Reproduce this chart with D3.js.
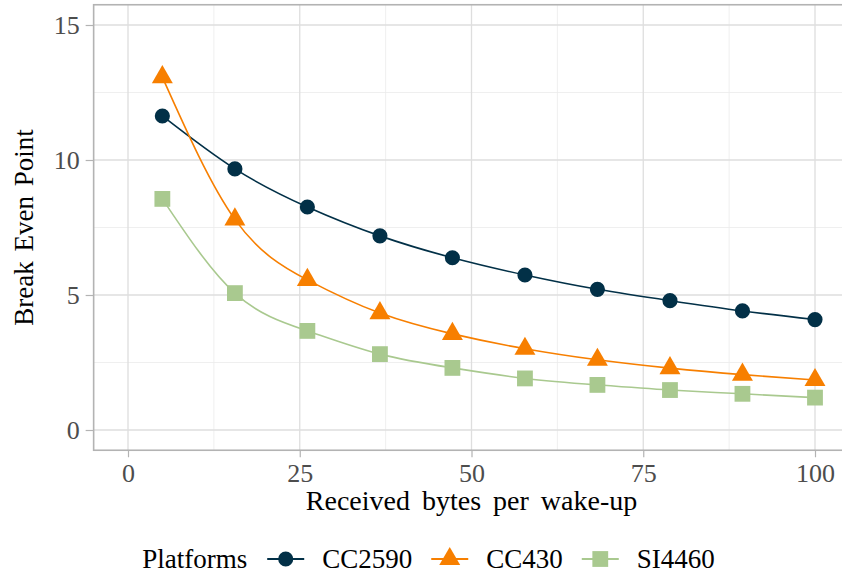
<!DOCTYPE html>
<html>
<head>
<meta charset="utf-8">
<script src="https://cdn.jsdelivr.net/npm/d3@7"></script>
<style>
  html, body { margin: 0; padding: 0; background: #fff; }
  svg { display: block; }
  text { font-family: "Liberation Serif", "Times New Roman", serif; }
</style>
</head>
<body>
<svg id="chart" width="842" height="579"></svg>
<script>
// ---- data ----
const bytesPerWakeup = [5, 15.56, 26.11, 36.67, 47.22, 57.78, 68.33, 78.89, 89.44, 100];
const cc2590 = [11.63, 9.67, 8.26, 7.19, 6.38, 5.74, 5.21, 4.79, 4.41, 4.09];
const cc430  = [13.07, 7.80, 5.56, 4.33, 3.56, 3.01, 2.60, 2.29, 2.05, 1.85];
const si4460 = [8.56, 5.07, 3.67, 2.81, 2.30, 1.91, 1.67, 1.48, 1.34, 1.20];
const platforms = ["CC2590", "CC430", "SI4460"];
const xTicks = [0, 25, 50, 75, 100];
const yTicks = [0, 5, 10, 15];
const xMinor = [12.5, 37.5, 62.5, 87.5];
const yMinor = [2.5, 7.5, 12.5];

const seriesValues = { CC2590: cc2590, CC430: cc430, SI4460: si4460 };
const colors = { CC2590: "#023047", CC430: "#f77f00", SI4460: "#a9c98f" };
const shapes = { CC2590: d3.symbolCircle, CC430: d3.symbolTriangle, SI4460: d3.symbolSquare };
const shapeSize = { CC2590: 180, CC430: 190, SI4460: 250 };

const svg = d3.select("#chart");

const x = d3.scaleLinear().domain([-5, 105]).range([93.65, 849.35]);
const y = d3.scaleLinear().domain([-0.75, 15.75]).range([450.25, 4.75]);

const panel = svg.append("g");
const [x0, x1] = x.range();
const [yb, yt] = y.range();

// minor grid
panel.selectAll("line.xminor").data(xMinor).join("line")
  .attr("x1", d => x(d)).attr("x2", d => x(d)).attr("y1", yt).attr("y2", yb)
  .attr("stroke", "#ebebeb").attr("stroke-width", 0.8);
panel.selectAll("line.yminor").data(yMinor).join("line")
  .attr("y1", d => y(d)).attr("y2", d => y(d)).attr("x1", x0).attr("x2", x1)
  .attr("stroke", "#ebebeb").attr("stroke-width", 0.8);
// major grid
panel.selectAll("line.xmajor").data(xTicks).join("line")
  .attr("x1", d => x(d)).attr("x2", d => x(d)).attr("y1", yt).attr("y2", yb)
  .attr("stroke", "#dedede").attr("stroke-width", 1.3);
panel.selectAll("line.ymajor").data(yTicks).join("line")
  .attr("y1", d => y(d)).attr("y2", d => y(d)).attr("x1", x0).attr("x2", x1)
  .attr("stroke", "#dedede").attr("stroke-width", 1.3);

// series
const line = d3.line().x(d => x(d[0])).y(d => y(d[1])).curve(d3.curveNatural);
platforms.forEach(p => {
  const pts = bytesPerWakeup.map((b, i) => [b, seriesValues[p][i]]);
  svg.append("path").datum(pts).attr("d", line)
    .attr("fill", "none").attr("stroke", colors[p]).attr("stroke-width", 1.6);
  svg.append("g").selectAll("path").data(pts).join("path")
    .attr("transform", d => `translate(${x(d[0])},${y(d[1])})`)
    .attr("d", d3.symbol().type(shapes[p]).size(shapeSize[p]))
    .attr("fill", colors[p]);
});

// panel border
svg.append("rect").attr("x", x0).attr("y", yt).attr("width", x1 - x0).attr("height", yb - yt)
  .attr("fill", "none").attr("stroke", "#b3b3b3").attr("stroke-width", 1.6);

// axes
const xAxis = d3.axisBottom(x).tickValues(xTicks).tickSize(7).tickPadding(6);
const gx = svg.append("g").attr("transform", `translate(0,${yb})`).call(xAxis);
gx.select(".domain").remove();
gx.selectAll(".tick line").attr("stroke", "#b3b3b3").attr("stroke-width", 1.2);
gx.selectAll(".tick text").attr("fill", "#4d4d4d").attr("font-size", 26)
  .attr("font-family", "Liberation Serif");

const yAxis = d3.axisLeft(y).tickValues(yTicks).tickSize(8).tickPadding(6);
const gy = svg.append("g").attr("transform", `translate(${x0},0)`).call(yAxis);
gy.select(".domain").remove();
gy.selectAll(".tick line").attr("stroke", "#b3b3b3").attr("stroke-width", 1.2);
gy.selectAll(".tick text").attr("fill", "#4d4d4d").attr("font-size", 26)
  .attr("font-family", "Liberation Serif");

// axis titles
svg.append("text").attr("x", (x0 + x1) / 2).attr("y", 510)
  .attr("text-anchor", "middle").attr("font-size", 28).attr("word-spacing", 5).attr("fill", "#000")
  .text("Received bytes per wake-up");
svg.append("text").attr("transform", `translate(33,${(yt + yb) / 2}) rotate(-90)`)
  .attr("text-anchor", "middle").attr("font-size", 27).attr("word-spacing", 3).attr("fill", "#000")
  .text("Break Even Point");

// legend
const leg = svg.append("g");
const legY = 559;
const title = leg.append("text").attr("x", 0).attr("y", legY).attr("dy", "0.35em")
  .attr("font-size", 27).text("Platforms");
let cx = title.node().getComputedTextLength() + 20;
platforms.forEach(p => {
  const keyW = 37;
  leg.append("line").attr("x1", cx).attr("x2", cx + keyW).attr("y1", legY).attr("y2", legY)
    .attr("stroke", colors[p]).attr("stroke-width", 2);
  leg.append("path").attr("transform", `translate(${cx + keyW / 2},${legY})`)
    .attr("d", d3.symbol().type(shapes[p]).size(shapeSize[p])).attr("fill", colors[p]);
  cx += keyW + 18;
  const t = leg.append("text").attr("x", cx).attr("y", legY).attr("dy", "0.35em")
    .attr("font-size", 27).text(p);
  cx += t.node().getComputedTextLength() + 19;
});
const legW = cx - 19;
leg.attr("transform", `translate(${428.5 - legW / 2},0)`);
</script>
</body>
</html>
